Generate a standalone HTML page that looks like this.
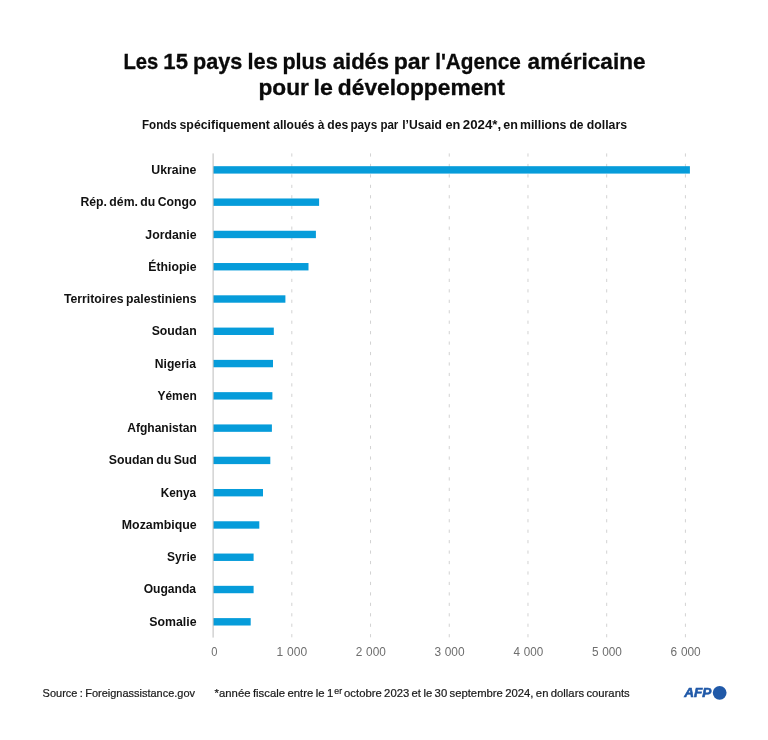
<!DOCTYPE html>
<html lang="fr">
<head>
<meta charset="utf-8">
<title>Les 15 pays les plus aidés par l'Agence américaine pour le développement</title>
<style>
html,body{margin:0;padding:0;background:#fff;}
body{width:768px;height:740px;overflow:hidden;font-family:"Liberation Sans",sans-serif;}
svg{display:block;}
text{font-family:"Liberation Sans",sans-serif;}
.title{font-weight:bold;font-size:22px;fill:#0a0a0a;stroke:#0a0a0a;stroke-width:0.3px;}
.sub{font-weight:bold;font-size:11.9px;fill:#111;}
.lab{font-weight:bold;font-size:12px;fill:#111;word-spacing:-0.9px;}
.tick{font-size:12px;fill:#6e6e6e;word-spacing:0.4px;}
.foot{font-size:11.4px;fill:#1a1a1a;stroke:#1a1a1a;stroke-width:0.22px;}
.afp{font-weight:bold;font-style:italic;font-size:12.8px;fill:#2059a8;stroke:#2059a8;stroke-width:0.6px;letter-spacing:0px;}
</style>
</head>
<body>
<svg width="768" height="740" viewBox="0 0 768 740">
<rect x="0" y="0" width="768" height="740" fill="#ffffff"/>
<text class="title" y="69.3"><tspan x="123.41" textLength="34.86" lengthAdjust="spacingAndGlyphs">Les</tspan> <tspan x="163.37" textLength="24.59" lengthAdjust="spacingAndGlyphs">15</tspan> <tspan x="193.12" textLength="49.30" lengthAdjust="spacingAndGlyphs">pays</tspan> <tspan x="247.49" textLength="30.35" lengthAdjust="spacingAndGlyphs">les</tspan> <tspan x="282.39" textLength="44.33" lengthAdjust="spacingAndGlyphs">plus</tspan> <tspan x="332.79" textLength="56.34" lengthAdjust="spacingAndGlyphs">aidés</tspan> <tspan x="393.65" textLength="35.94" lengthAdjust="spacingAndGlyphs">par</tspan> <tspan x="435.16" textLength="85.78" lengthAdjust="spacingAndGlyphs">l'Agence</tspan> <tspan x="527.61" textLength="117.87" lengthAdjust="spacingAndGlyphs">américaine</tspan></text>
<text class="title" y="94.8"><tspan x="258.47" textLength="50.40" lengthAdjust="spacingAndGlyphs">pour</tspan> <tspan x="313.61" textLength="19.34" lengthAdjust="spacingAndGlyphs">le</tspan> <tspan x="337.82" textLength="166.97" lengthAdjust="spacingAndGlyphs">développement</tspan></text>
<text class="sub" y="128.9"><tspan x="141.96" textLength="34.83" lengthAdjust="spacingAndGlyphs">Fonds</tspan> <tspan x="179.52" textLength="90.40" lengthAdjust="spacingAndGlyphs">spécifiquement</tspan> <tspan x="273.28" textLength="41.28" lengthAdjust="spacingAndGlyphs">alloués</tspan> <tspan x="317.76" textLength="6.69" lengthAdjust="spacingAndGlyphs">à</tspan> <tspan x="327.24" textLength="20.95" lengthAdjust="spacingAndGlyphs">des</tspan> <tspan x="350.39" textLength="26.86" lengthAdjust="spacingAndGlyphs">pays</tspan> <tspan x="380.40" textLength="17.97" lengthAdjust="spacingAndGlyphs">par</tspan> <tspan x="402.22" textLength="39.71" lengthAdjust="spacingAndGlyphs">l’Usaid</tspan> <tspan x="445.41" textLength="14.90" lengthAdjust="spacingAndGlyphs">en</tspan> <tspan x="462.77" textLength="38.40" lengthAdjust="spacingAndGlyphs">2024*,</tspan> <tspan x="503.23" textLength="14.61" lengthAdjust="spacingAndGlyphs">en</tspan> <tspan x="519.97" textLength="46.43" lengthAdjust="spacingAndGlyphs">millions</tspan> <tspan x="569.51" textLength="14.00" lengthAdjust="spacingAndGlyphs">de</tspan> <tspan x="586.74" textLength="40.28" lengthAdjust="spacingAndGlyphs">dollars</tspan></text>
<line x1="291.82" y1="153.4" x2="291.82" y2="637.6" stroke="#d2d2d2" stroke-width="1" stroke-dasharray="3.2 7.25"/>
<line x1="370.54" y1="153.4" x2="370.54" y2="637.6" stroke="#d2d2d2" stroke-width="1" stroke-dasharray="3.2 7.25"/>
<line x1="449.26" y1="153.4" x2="449.26" y2="637.6" stroke="#d2d2d2" stroke-width="1" stroke-dasharray="3.2 7.25"/>
<line x1="527.98" y1="153.4" x2="527.98" y2="637.6" stroke="#d2d2d2" stroke-width="1" stroke-dasharray="3.2 7.25"/>
<line x1="606.70" y1="153.4" x2="606.70" y2="637.6" stroke="#d2d2d2" stroke-width="1" stroke-dasharray="3.2 7.25"/>
<line x1="685.42" y1="153.4" x2="685.42" y2="637.6" stroke="#d2d2d2" stroke-width="1" stroke-dasharray="3.2 7.25"/>
<rect x="213.1" y="166.19" width="476.8" height="7.4" fill="#069cda"/>
<rect x="213.1" y="198.47" width="106.0" height="7.4" fill="#069cda"/>
<rect x="213.1" y="230.75" width="102.8" height="7.4" fill="#069cda"/>
<rect x="213.1" y="263.03" width="95.4" height="7.4" fill="#069cda"/>
<rect x="213.1" y="295.31" width="72.3" height="7.4" fill="#069cda"/>
<rect x="213.1" y="327.59" width="60.7" height="7.4" fill="#069cda"/>
<rect x="213.1" y="359.87" width="59.9" height="7.4" fill="#069cda"/>
<rect x="213.1" y="392.15" width="59.3" height="7.4" fill="#069cda"/>
<rect x="213.1" y="424.43" width="58.8" height="7.4" fill="#069cda"/>
<rect x="213.1" y="456.71" width="57.2" height="7.4" fill="#069cda"/>
<rect x="213.1" y="488.99" width="49.9" height="7.4" fill="#069cda"/>
<rect x="213.1" y="521.27" width="46.2" height="7.4" fill="#069cda"/>
<rect x="213.1" y="553.55" width="40.5" height="7.4" fill="#069cda"/>
<rect x="213.1" y="585.83" width="40.5" height="7.4" fill="#069cda"/>
<rect x="213.1" y="618.11" width="37.6" height="7.4" fill="#069cda"/>
<line x1="213.10" y1="153.4" x2="213.10" y2="637.6" stroke="#bdbdbd" stroke-width="1"/>
<text class="lab" x="151.3" y="174.1" textLength="45.1" lengthAdjust="spacingAndGlyphs">Ukraine</text>
<text class="lab" x="80.4" y="206.3" textLength="116.1" lengthAdjust="spacingAndGlyphs">Rép. dém. du Congo</text>
<text class="lab" x="145.3" y="238.6" textLength="51.2" lengthAdjust="spacingAndGlyphs">Jordanie</text>
<text class="lab" x="148.3" y="270.8" textLength="48.3" lengthAdjust="spacingAndGlyphs">Éthiopie</text>
<text class="lab" x="64.0" y="303.1" textLength="132.6" lengthAdjust="spacingAndGlyphs">Territoires palestiniens</text>
<text class="lab" x="151.7" y="335.3" textLength="45.0" lengthAdjust="spacingAndGlyphs">Soudan</text>
<text class="lab" x="154.8" y="367.6" textLength="41.2" lengthAdjust="spacingAndGlyphs">Nigeria</text>
<text class="lab" x="157.5" y="399.9" textLength="39.2" lengthAdjust="spacingAndGlyphs">Yémen</text>
<text class="lab" x="127.2" y="432.1" textLength="69.7" lengthAdjust="spacingAndGlyphs">Afghanistan</text>
<text class="lab" x="108.7" y="464.4" textLength="88.2" lengthAdjust="spacingAndGlyphs">Soudan du Sud</text>
<text class="lab" x="160.7" y="496.6" textLength="35.3" lengthAdjust="spacingAndGlyphs">Kenya</text>
<text class="lab" x="121.8" y="528.9" textLength="74.8" lengthAdjust="spacingAndGlyphs">Mozambique</text>
<text class="lab" x="167.1" y="561.1" textLength="29.4" lengthAdjust="spacingAndGlyphs">Syrie</text>
<text class="lab" x="143.7" y="593.4" textLength="52.4" lengthAdjust="spacingAndGlyphs">Ouganda</text>
<text class="lab" x="149.3" y="625.6" textLength="47.2" lengthAdjust="spacingAndGlyphs">Somalie</text>
<text class="tick" x="211.2" y="655.9" textLength="6.2" lengthAdjust="spacingAndGlyphs">0</text>
<text class="tick" x="276.6" y="655.9" textLength="30.5" lengthAdjust="spacingAndGlyphs">1 000</text>
<text class="tick" x="355.8" y="655.9" textLength="30.0" lengthAdjust="spacingAndGlyphs">2 000</text>
<text class="tick" x="434.4" y="655.9" textLength="30.2" lengthAdjust="spacingAndGlyphs">3 000</text>
<text class="tick" x="513.6" y="655.9" textLength="29.6" lengthAdjust="spacingAndGlyphs">4 000</text>
<text class="tick" x="591.9" y="655.9" textLength="30.0" lengthAdjust="spacingAndGlyphs">5 000</text>
<text class="tick" x="670.6" y="655.9" textLength="30.1" lengthAdjust="spacingAndGlyphs">6 000</text>
<text class="foot" transform="translate(42.60,697.20) scale(0.9630,1)" style="word-spacing:-0.68px">Source : Foreignassistance.gov</text>
<text class="foot" transform="translate(214.60,697.20) scale(0.9945,1)" style="word-spacing:-0.70px">*année fiscale entre le 1<tspan dy="-3.6" dx="1.0" font-size="8.8px">er</tspan></text>
<text class="foot" transform="translate(344.10,697.20) scale(0.9900,1)" style="word-spacing:-0.72px">octobre 2023 et le 30 septembre 2024, en dollars courants</text>
<text class="afp" x="684.2" y="696.9" textLength="27.1" lengthAdjust="spacingAndGlyphs">AFP</text>
<circle cx="719.65" cy="692.8" r="6.9" fill="#2059a8"/>
</svg>
</body>
</html>
